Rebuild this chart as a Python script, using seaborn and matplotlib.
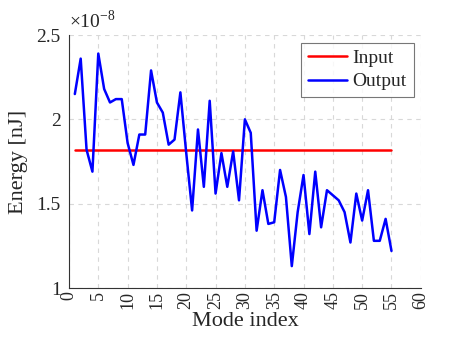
import numpy as np
import pandas as pd
import matplotlib
matplotlib.use("Agg")
import matplotlib.pyplot as plt
import seaborn as sns
from matplotlib.ticker import FuncFormatter

mode_index = list(range(1, 56))
output_energy = [2.15, 2.36, 1.82, 1.69, 2.39, 2.18, 2.10, 2.12, 2.12, 1.86,
                 1.73, 1.91, 1.91, 2.29, 2.10, 2.04, 1.85, 1.88, 2.16, 1.80,
                 1.46, 1.94, 1.60, 2.11, 1.56, 1.80, 1.60, 1.81, 1.52, 2.00,
                 1.92, 1.34, 1.58, 1.38, 1.39, 1.70, 1.54, 1.13, 1.45, 1.67,
                 1.32, 1.69, 1.36, 1.58, 1.55, 1.52, 1.45, 1.27, 1.56, 1.40,
                 1.58, 1.28, 1.28, 1.41, 1.22]
input_energy = 1.82
scale = 1e-8
x_ticks = list(range(0, 61, 5))
y_ticks = [1.0, 1.5, 2.0, 2.5]

df = pd.DataFrame({
    "mode": mode_index * 2,
    "energy": [input_energy * scale] * len(mode_index) + [v * scale for v in output_energy],
    "series": ["Input"] * len(mode_index) + ["Output"] * len(mode_index),
})

sns.set_theme(style="white")
plt.rcParams["font.family"] = ["Liberation Serif", "DejaVu Serif"]
plt.rcParams["mathtext.fontset"] = "custom"
plt.rcParams["mathtext.rm"] = "Liberation Serif"

fig = plt.figure(figsize=(4.66, 3.5), dpi=100)
ax = fig.add_axes([0.148, 0.177, 0.755, 0.723])

sns.lineplot(data=df, x="mode", y="energy", hue="series",
             palette={"Input": "#ff0000", "Output": "#0000ff"},
             linewidth=1.8, ax=ax)

ax.set_xlim(0, 60)
ax.set_ylim(1e-8, 2.5e-8)
ax.set_xticks(x_ticks)
ax.set_yticks([v * scale for v in y_ticks])
ax.yaxis.set_major_formatter(FuncFormatter(lambda v, p: "%g" % round(v / scale, 6)))
ax.text(0.0, 1.012, r"$\times10^{-8}$", transform=ax.transAxes, fontsize=14,
        ha="left", va="bottom")
ax.tick_params(axis="x", labelrotation=90, labelsize=13, direction="in", length=3,
               color="#333333", pad=2)
ax.tick_params(axis="y", labelsize=14, direction="in", length=3, color="#333333", pad=6)
ax.grid(True, linestyle=(0, (4, 4)), color="#d8d8d8", linewidth=0.8)
for s in ["top", "right"]:
    ax.spines[s].set_visible(False)
for s in ["left", "bottom"]:
    ax.spines[s].set_color("#333333")
    ax.spines[s].set_linewidth(0.8)

ax.set_xlabel("Mode index", fontsize=16, labelpad=2)
ax.set_ylabel("Energy [nJ]", fontsize=16, labelpad=6)

leg = ax.legend(title=None, loc="upper right", fontsize=14, frameon=True,
                fancybox=False, edgecolor="#555555", handlelength=2.0,
                borderpad=0.35, labelspacing=0.3, handletextpad=0.3,
                borderaxespad=0.0, bbox_to_anchor=(0.98, 0.97))
leg.get_frame().set_linewidth(0.8)

fig.savefig("out.png", dpi=100)
